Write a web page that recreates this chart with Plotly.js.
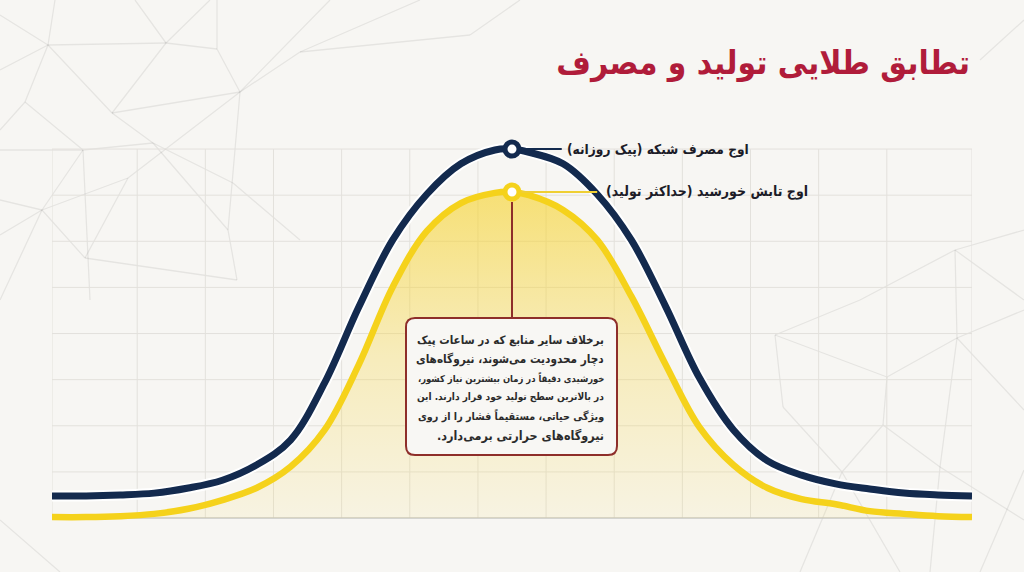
<!DOCTYPE html>
<html>
<head>
<meta charset="utf-8">
<script src="https://cdn.plot.ly/plotly-3.0.1.min.js"></script>
<style>
  html, body { margin: 0; padding: 0; background: #F7F6F3; }
  #chart { width: 1024px; height: 572px; }
</style>
</head>
<body>
<div id="chart"></div>
<script>
// ---------------- data ----------------
const timeSlots = [0, 0.5, 1, 1.5, 2, 2.5, 3, 3.5, 4, 4.5, 5, 5.5, 6, 6.5, 6.75, 7, 7.5, 8, 8.5, 9, 9.5, 10, 10.5, 11, 11.5, 12, 12.5, 13, 13.5];
const gridDemand = [0.48, 0.48, 0.50, 0.54, 0.65, 0.82, 1.15, 1.69, 2.93, 4.57, 6.03, 7.02, 7.68, 7.98, 8.00, 7.93, 7.68, 7.02, 6.03, 4.60, 3.04, 1.91, 1.24, 0.93, 0.74, 0.63, 0.54, 0.50, 0.48];
const solarOutput = [0.02, 0.02, 0.04, 0.09, 0.20, 0.39, 0.65, 1.11, 1.91, 3.32, 5.01, 6.22, 6.83, 7.05, 7.07, 7.00, 6.68, 6.03, 4.81, 3.34, 1.97, 1.15, 0.65, 0.41, 0.30, 0.15, 0.09, 0.04, 0.02];
const gridLinesX = [1.25, 2.25, 3.25, 4.25, 5.25, 6.25, 7.25, 8.25, 9.25, 10.25, 11.25, 12.25];
const gridLinesY = [1, 2, 3, 4, 5, 6, 7, 8];

const titleText = "تطابق طلایی تولید و مصرف";
const demandLabel = "اوج مصرف شبکه (پیک روزانه)";
const solarLabel = "اوج تابش خورشید (حداکثر تولید)";
const noteLines = [
  "برخلاف سایر منابع که در ساعات پیک",
  "دچار محدودیت می‌شوند، نیروگاه‌های",
  "خورشیدی دقیقاً در زمان بیشترین نیاز کشور،",
  "در بالاترین سطح تولید خود قرار دارند. این",
  "ویژگی حیاتی، مستقیماً فشار را از روی",
  "نیروگاه‌های حرارتی برمی‌دارد."
];

// ---------------- styling ----------------
const NAVY = "#132A4E";
const GOLD = "#F5D21B";
const CRIMSON = "#B01C3A";
const NOTE_RED = "#8E2E2A";
const BG = "#F7F6F3";
const FONT = "DejaVu Sans Condensed, DejaVu Sans, sans-serif";
const RLM = "\u200F";
const rtl = s => RLM + s + RLM;

// text fitting helper (pick a font size so a line fits a target width)
const cvs = document.createElement("canvas").getContext("2d");
function fitSize(text, maxSize, targetW) {
  cvs.font = `bold ${maxSize}px 'DejaVu Sans Condensed', 'DejaVu Sans', sans-serif`;
  const w = cvs.measureText(text).width;
  return w > targetW ? Math.floor(maxSize * targetW / w * 10) / 10 : maxSize;
}

const X_MIN = 0, X_MAX = 13.5;
const Y_MIN = -0.52, Y_MAX = 8.63;
const M = {l: 52, r: 52, t: 120, b: 30};
const PW = 1024 - M.l - M.r, PH = 572 - M.t - M.b;
const px = v => (v - M.l) / PW;
const py = v => (572 - M.b - v) / PH;

function argmax(a) { let k = 0; a.forEach((v, i) => { if (v > a[k]) k = i; }); return k; }
const dPeak = argmax(gridDemand), sPeak = argmax(solarOutput);

// ---------------- decorative background mesh (pixel coords) ----------------
const meshSegs = [
  [0,15,48,45],[48,45,55,0],[48,45,166,43],[166,43,217,49],[166,43,135,0],[166,43,210,0],
  [217,49,217,0],[217,49,240,92],[240,92,300,52],[48,45,112,113],[48,45,25,102],[0,70,48,45],
  [166,43,112,113],[112,113,240,92],[112,113,153,143],[153,143,233,183],[25,102,83,150],
  [0,150,83,150],[83,150,153,143],[83,150,42,210],[42,210,0,235],[42,210,128,178],[128,178,240,92],
  [128,178,85,258],[42,210,85,258],[85,258,237,280],[237,280,228,230],[228,230,240,92],
  [153,143,228,230],[233,183,300,240],[0,200,42,210],[25,102,0,130],[83,150,90,300],
  [240,92,330,0],[300,52,420,0],[300,52,470,35],[470,35,520,0],[0,300,42,210],
  [775,335,887,377],[887,377,957,338],[957,338,1024,310],[957,338,1024,410],[775,335,783,407],
  [783,407,842,472],[842,472,800,572],[887,377,883,425],[883,425,842,472],[883,425,940,467],
  [940,467,930,572],[940,467,1024,520],[957,338,940,467],[842,472,900,572],[980,572,1024,470],
  [955,250,1024,230],[955,250,957,338],[955,250,1024,300],[860,300,955,250],[775,335,860,300],
  [0,520,60,572],[980,60,1024,20]
];
const meshShapes = meshSegs.map(s => ({
  type: "line", xref: "paper", yref: "paper", layer: "below",
  x0: px(s[0]), y0: py(s[1]), x1: px(s[2]), y1: py(s[3]),
  line: {color: "rgba(0,0,0,0.07)", width: 1.3}
}));

// ---------------- grid ----------------
const gridShapes = [];
[X_MIN].concat(gridLinesX, [X_MAX]).forEach(v => gridShapes.push({
  type: "line", xref: "x", yref: "y", layer: "below",
  x0: v, x1: v, y0: 0, y1: gridLinesY[gridLinesY.length - 1],
  line: {color: "#E3E1DC", width: 1}
}));
gridLinesY.forEach(v => gridShapes.push({
  type: "line", xref: "x", yref: "y", layer: "below",
  x0: X_MIN, x1: X_MAX, y0: v, y1: v,
  line: {color: "#E3E1DC", width: 1}
}));
gridShapes.push({
  type: "line", xref: "x", yref: "y", layer: "below",
  x0: X_MIN, x1: X_MAX, y0: 0, y1: 0,
  line: {color: "#C9C8C4", width: 1.5}
});

// ---------------- callout shapes ----------------
const dPx = timeSlots[dPeak], dPy = gridDemand[dPeak];
const sPx = timeSlots[sPeak], sPy = solarOutput[sPeak];
const boxL = 406, boxR = 617, boxT = 318, boxB = 455, rad = 9;
function roundRect(l, t, r, b, c) {
  const X = px, Y = py;
  return `M ${X(l + c)} ${Y(t)} L ${X(r - c)} ${Y(t)} Q ${X(r)} ${Y(t)} ${X(r)} ${Y(t + c)} ` +
         `L ${X(r)} ${Y(b - c)} Q ${X(r)} ${Y(b)} ${X(r - c)} ${Y(b)} ` +
         `L ${X(l + c)} ${Y(b)} Q ${X(l)} ${Y(b)} ${X(l)} ${Y(b - c)} ` +
         `L ${X(l)} ${Y(t + c)} Q ${X(l)} ${Y(t)} ${X(l + c)} ${Y(t)} Z`;
}
const calloutShapes = [
  {type: "line", xref: "x", yref: "y", layer: "above",
   x0: dPx + 0.14, x1: 7.48, y0: dPy, y1: dPy, line: {color: NAVY, width: 2}},
  {type: "line", xref: "x", yref: "y", layer: "above",
   x0: sPx + 0.14, x1: 8.0, y0: sPy, y1: sPy, line: {color: "#EFCF33", width: 2}},
  {type: "line", xref: "x", yref: "paper", layer: "above",
   x0: sPx, x1: sPx, y0: py(202), y1: py(boxT), line: {color: NOTE_RED, width: 2}},
  {type: "path", xref: "paper", yref: "paper", layer: "above",
   path: roundRect(boxL, boxT, boxR, boxB, rad),
   fillcolor: "#F8F7F4", line: {color: NOTE_RED, width: 2}}
];

// ---------------- traces ----------------
const traces = [
  { x: timeSlots, y: solarOutput, type: "scatter", mode: "lines",
    line: {width: 0, shape: "spline", smoothing: 1}, fill: "tozeroy",
    fillgradient: {type: "vertical",
      colorscale: [[0, "rgba(247,214,70,0.10)"], [0.5, "rgba(247,212,55,0.30)"], [1, "rgba(246,210,40,0.62)"]]},
    hoverinfo: "skip", showlegend: false },
  { x: timeSlots, y: solarOutput, type: "scatter", mode: "lines",
    line: {color: GOLD, width: 6.5, shape: "spline", smoothing: 1},
    hoverinfo: "skip", showlegend: false },
  { x: timeSlots, y: gridDemand, type: "scatter", mode: "lines",
    line: {color: "#FFFFFF", width: 11, shape: "spline", smoothing: 1},
    hoverinfo: "skip", showlegend: false },
  { x: timeSlots, y: gridDemand, type: "scatter", mode: "lines",
    line: {color: NAVY, width: 7, shape: "spline", smoothing: 1},
    hoverinfo: "skip", showlegend: false },
  { x: [dPx], y: [dPy], type: "scatter", mode: "markers", cliponaxis: false,
    marker: {size: 14, color: "#FFFFFF", line: {color: NAVY, width: 5}},
    hoverinfo: "skip", showlegend: false },
  { x: [sPx], y: [sPy], type: "scatter", mode: "markers", cliponaxis: false,
    marker: {size: 14, color: "#FFFFFF", line: {color: GOLD, width: 5}},
    hoverinfo: "skip", showlegend: false }
];

const noteRight = boxR - 12, noteAvail = 188, noteTop = 340, noteStep = 19;
const annotations = [
  { x: 7.54, y: dPy, xref: "x", yref: "y", xanchor: "left", yanchor: "middle",
    text: rtl(demandLabel), showarrow: false, borderpad: 0,
    font: {family: FONT, size: fitSize(demandLabel, 15, 182), color: "#1C1C28", weight: 700} },
  { x: 8.11, y: sPy, xref: "x", yref: "y", xanchor: "left", yanchor: "middle",
    text: rtl(solarLabel), showarrow: false, borderpad: 0,
    font: {family: FONT, size: fitSize(solarLabel, 15, 203), color: "#1C1C28", weight: 700} }
].concat(noteLines.map((ln, i) => ({
    x: px(noteRight), y: py(noteTop + i * noteStep), xref: "paper", yref: "paper",
    xanchor: "right", yanchor: "middle", align: "right",
    text: rtl(ln), showarrow: false, borderpad: 0,
    font: {family: FONT, size: fitSize(ln, 12.5, noteAvail), color: "#2B2B2B", weight: 700}
})));

const layout = {
  width: 1024, height: 572,
  margin: M,
  paper_bgcolor: BG, plot_bgcolor: "rgba(0,0,0,0)",
  title: { text: rtl(titleText), xref: "container", yref: "container",
           x: 970 / 1024, xanchor: "right", y: 1 - 62 / 572, yanchor: "middle",
           font: {family: FONT, size: fitSize(titleText, 38, 415), color: CRIMSON, weight: 800} },
  xaxis: { range: [X_MIN, X_MAX], showgrid: false, zeroline: false, showticklabels: false,
           showline: false, ticks: "", fixedrange: true },
  yaxis: { range: [Y_MIN, Y_MAX], showgrid: false, zeroline: false, showticklabels: false,
           showline: false, ticks: "", fixedrange: true },
  showlegend: false,
  shapes: meshShapes.concat(gridShapes, calloutShapes),
  annotations: annotations
};

Plotly.newPlot("chart", traces, layout, {staticPlot: true, displayModeBar: false});
</script>
</body>
</html>
